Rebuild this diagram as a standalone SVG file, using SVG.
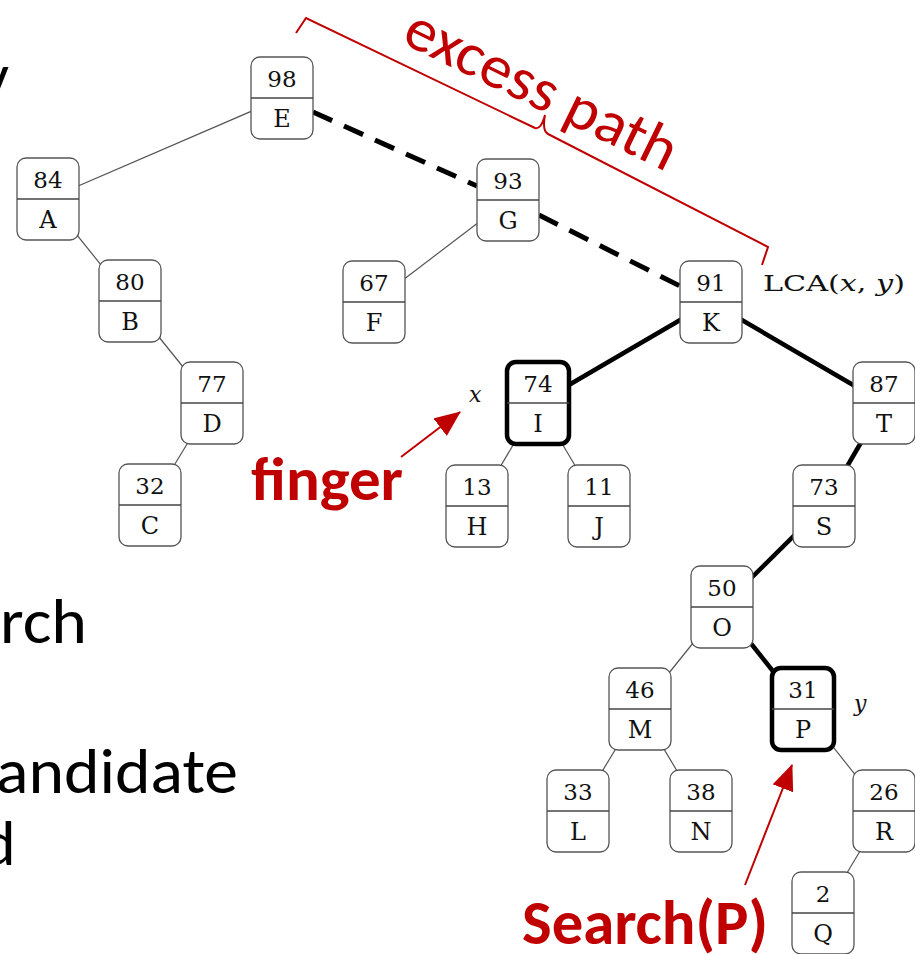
<svg xmlns="http://www.w3.org/2000/svg" width="915" height="954" viewBox="0 0 915 954">
  <style>
    .box { fill: #fff; stroke: #555; stroke-width: 1.3; }
    .box.hl { stroke: #000; stroke-width: 4.5; }
    .div { stroke: #444; stroke-width: 1.3; }
    .num { font-family: "DejaVu Serif", "Liberation Serif", serif; font-size: 23px; fill: #111; text-anchor: middle; }
    .key { font-family: "DejaVu Serif", "Liberation Serif", serif; font-size: 24px; fill: #111; text-anchor: middle; }
    .thin { stroke: #555; stroke-width: 1.2; fill: none; }
    .thick { stroke: #000; stroke-width: 4.5; fill: none; }
    .dash { stroke: #000; stroke-width: 5; fill: none; stroke-dasharray: 21 13; }
    .math { font-family: "DejaVu Serif", "Liberation Serif", serif; font-size: 22px; fill: #111; }
    .red { font-family: Carlito, Lato, "Open Sans", sans-serif; fill: #c00000; }
    .slide { font-family: Carlito, Lato, "Open Sans", sans-serif; font-size: 64px; fill: #000; }
    .redline { stroke: #c00000; stroke-width: 2; fill: none; }
  </style>
  <defs>
    <marker id="redhead" viewBox="0 0 26 22" refX="25" refY="11" markerWidth="26" markerHeight="22" markerUnits="userSpaceOnUse" orient="auto">
      <path d="M0,0 L26,11 L0,22 z" fill="#c00000"/>
    </marker>
    <g id="nodebox">
      <rect class="box" x="-31" y="-41" width="62" height="82" rx="9"/>
      <line class="div" x1="-31" y1="0" x2="31" y2="0"/>
    </g>
  </defs>

  <rect width="915" height="954" fill="#fff"/>

  <!-- slide body text clipped at the left edge -->
  <text class="slide" x="-20" y="98">y</text>
  <text class="slide" x="0" y="643" textLength="87" lengthAdjust="spacingAndGlyphs">rch</text>
  <text class="slide" x="-4" y="793" textLength="242" lengthAdjust="spacingAndGlyphs">andidate</text>
  <text class="slide" x="-18" y="865">d</text>

  <!-- connectors (centre to centre, boxes drawn on top) -->
  <g id="connectors">
    <line class="thin" x1="282" y1="98" x2="48" y2="199"/>
    <line class="thin" x1="48" y1="199" x2="130" y2="301"/>
    <line class="thin" x1="130" y1="301" x2="212" y2="403"/>
    <line class="thin" x1="212" y1="403" x2="150" y2="505"/>
    <line class="thin" x1="508" y1="200" x2="374" y2="302"/>
    <line class="thin" x1="538" y1="403" x2="477" y2="506"/>
    <line class="thin" x1="538" y1="403" x2="599" y2="506"/>
    <line class="thin" x1="722" y1="607" x2="640" y2="709"/>
    <line class="thin" x1="640" y1="709" x2="578" y2="811"/>
    <line class="thin" x1="640" y1="709" x2="701" y2="811"/>
    <line class="thin" x1="803" y1="709" x2="884" y2="811"/>
    <line class="thin" x1="884" y1="811" x2="823" y2="913"/>
    <line class="dash" x1="313" y1="112" x2="477" y2="186"/>
    <line class="dash" x1="539" y1="215" x2="680" y2="286"/>
    <line class="thick" x1="711" y1="302" x2="538" y2="403"/>
    <line class="thick" x1="711" y1="302" x2="884" y2="403"/>
    <line class="thick" x1="884" y1="403" x2="824" y2="506"/>
    <line class="thick" x1="824" y1="506" x2="722" y2="607"/>
    <line class="thick" x1="722" y1="607" x2="803" y2="709"/>
  </g>

  <!-- tree nodes: key on top, label below -->
  <g id="node-E" transform="translate(282,98)"><use href="#nodebox"/><text class="num" y="-11">98</text><text class="key" y="29">E</text></g>
  <g id="node-A" transform="translate(48,199)"><use href="#nodebox"/><text class="num" y="-11">84</text><text class="key" y="29">A</text></g>
  <g id="node-B" transform="translate(130,301)"><use href="#nodebox"/><text class="num" y="-11">80</text><text class="key" y="29">B</text></g>
  <g id="node-D" transform="translate(212,403)"><use href="#nodebox"/><text class="num" y="-11">77</text><text class="key" y="29">D</text></g>
  <g id="node-C" transform="translate(150,505)"><use href="#nodebox"/><text class="num" y="-11">32</text><text class="key" y="29">C</text></g>
  <g id="node-G" transform="translate(508,200)"><use href="#nodebox"/><text class="num" y="-11">93</text><text class="key" y="29">G</text></g>
  <g id="node-F" transform="translate(374,302)"><use href="#nodebox"/><text class="num" y="-11">67</text><text class="key" y="29">F</text></g>
  <g id="node-K" transform="translate(711,302)"><use href="#nodebox"/><text class="num" y="-11">91</text><text class="key" y="29">K</text></g>
  <g id="node-I" transform="translate(538,403)">
    <rect class="box hl" x="-31" y="-41" width="62" height="82" rx="9"/>
    <line class="div" x1="-31" y1="0" x2="31" y2="0"/>
    <text class="num" y="-11">74</text><text class="key" y="29">I</text>
  </g>
  <g id="node-T" transform="translate(884,403)"><use href="#nodebox"/><text class="num" y="-11">87</text><text class="key" y="29">T</text></g>
  <g id="node-H" transform="translate(477,506)"><use href="#nodebox"/><text class="num" y="-11">13</text><text class="key" y="29">H</text></g>
  <g id="node-J" transform="translate(599,506)"><use href="#nodebox"/><text class="num" y="-11">11</text><text class="key" y="29">J</text></g>
  <g id="node-S" transform="translate(824,506)"><use href="#nodebox"/><text class="num" y="-11">73</text><text class="key" y="29">S</text></g>
  <g id="node-O" transform="translate(722,607)"><use href="#nodebox"/><text class="num" y="-11">50</text><text class="key" y="29">O</text></g>
  <g id="node-M" transform="translate(640,709)"><use href="#nodebox"/><text class="num" y="-11">46</text><text class="key" y="29">M</text></g>
  <g id="node-P" transform="translate(803,709)">
    <rect class="box hl" x="-31" y="-41" width="62" height="82" rx="9"/>
    <line class="div" x1="-31" y1="0" x2="31" y2="0"/>
    <text class="num" y="-11">31</text><text class="key" y="29">P</text>
  </g>
  <g id="node-L" transform="translate(578,811)"><use href="#nodebox"/><text class="num" y="-11">33</text><text class="key" y="29">L</text></g>
  <g id="node-N" transform="translate(701,811)"><use href="#nodebox"/><text class="num" y="-11">38</text><text class="key" y="29">N</text></g>
  <g id="node-R" transform="translate(884,811)"><use href="#nodebox"/><text class="num" y="-11">26</text><text class="key" y="29">R</text></g>
  <g id="node-Q" transform="translate(823,913)"><use href="#nodebox"/><text class="num" y="-11">2</text><text class="key" y="29">Q</text></g>

  <!-- math labels -->
  <text class="math" x="763" y="291" textLength="142" lengthAdjust="spacingAndGlyphs">LCA(<tspan font-style="italic">x</tspan>, <tspan font-style="italic">y</tspan>)</text>
  <text class="math" x="469" y="402" font-style="italic">x</text>
  <text class="math" x="854" y="711" font-style="italic">y</text>

  <!-- excess path brace -->
  <g id="excess-path">
    <path class="redline" d="M296,33 L306,18 L535,128 Q541,130 545,115 Q542,131 548,134 L768,247 L762,265"/>
    <text class="red" font-size="61" x="400" y="42" transform="rotate(26 400 42)" textLength="296" lengthAdjust="spacingAndGlyphs">excess path</text>
  </g>

  <!-- annotations -->
  <g id="finger">
    <line class="redline" x1="401" y1="457" x2="460" y2="412" marker-end="url(#redhead)" stroke-width="2.5"/>
    <text class="red" font-size="60" font-weight="bold" x="251" y="500" textLength="152" lengthAdjust="spacingAndGlyphs">finger</text>
  </g>
  <g id="search">
    <line class="redline" x1="745" y1="885" x2="792" y2="765" marker-end="url(#redhead)" stroke-width="2.5"/>
    <text class="red" font-size="62" font-weight="bold" x="522" y="944" textLength="246" lengthAdjust="spacingAndGlyphs">Search(P)</text>
  </g>
</svg>
